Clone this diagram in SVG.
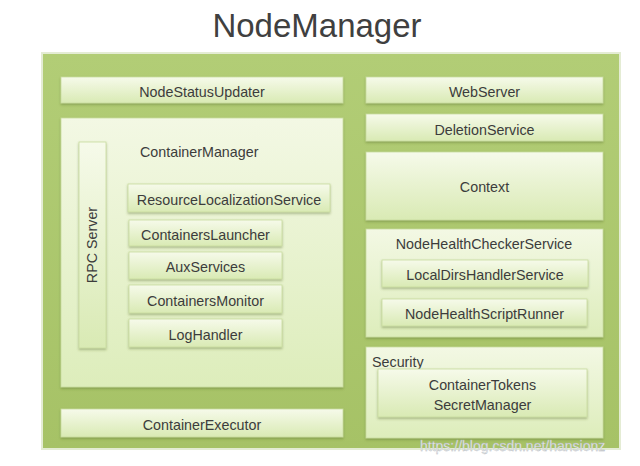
<svg xmlns="http://www.w3.org/2000/svg" width="640" height="466" viewBox="0 0 640 466">
<defs>
<linearGradient id="outerG" x1="0" y1="0" x2="0" y2="1">
<stop offset="0" stop-color="#b2cd76"/>
<stop offset="1" stop-color="#a6c266"/>
</linearGradient>
<linearGradient id="boxG" x1="0" y1="0" x2="0" y2="1">
<stop offset="0" stop-color="#f6faea"/>
<stop offset="1" stop-color="#d9eab4"/>
</linearGradient>
<linearGradient id="bigG" x1="0" y1="0" x2="0" y2="1">
<stop offset="0" stop-color="#f3f8e4"/>
<stop offset="1" stop-color="#ddedbb"/>
</linearGradient>
<filter id="sh" x="-10%" y="-10%" width="120%" height="130%">
<feDropShadow dx="0" dy="1.5" stdDeviation="1" flood-color="#5a6e2c" flood-opacity="0.45"/>
</filter>
</defs>
<style>
.box{fill:url(#boxG);stroke:#c9dc9f;stroke-width:0.8;filter:url(#sh)}
.big{fill:url(#bigG);stroke:#c9dc9f;stroke-width:0.8;filter:url(#sh)}
.t{font-family:"Liberation Sans",Arial,sans-serif;font-size:14.3px;fill:#3c3c3c;text-anchor:middle}
.tl{font-family:"Liberation Sans",Arial,sans-serif;font-size:14.3px;fill:#3c3c3c}
</style>
<rect width="640" height="466" fill="#ffffff"/>
<text x="317" y="37" font-family="Liberation Sans,Arial,sans-serif" font-size="33" fill="#404040" text-anchor="middle">NodeManager</text>
<g id="outer">
<rect x="42" y="53" width="578" height="396" fill="url(#outerG)" stroke="#e4ecd4" stroke-width="2"/>
</g>
<g id="connectors"></g>
<g id="NodeStatusUpdater"><rect class="box" x="61" y="77" width="282" height="26"/><text class="t" x="202" y="96.5">NodeStatusUpdater</text></g>
<g id="ContainerManager"><rect class="big" x="61" y="118" width="282" height="269"/><text class="tl" x="140" y="157">ContainerManager</text></g>
<g id="RPCServer"><rect class="box" x="79" y="142" width="27" height="206"/><text class="t" transform="translate(97,245) rotate(-90)">RPC Server</text></g>
<g id="ResourceLocalizationService"><rect class="box" x="128" y="184" width="202" height="28"/><text class="t" x="229" y="204.5">ResourceLocalizationService</text></g>
<g id="ContainersLauncher"><rect class="box" x="129" y="220" width="153" height="26"/><text class="t" x="205.5" y="239.5">ContainersLauncher</text></g>
<g id="AuxServices"><rect class="box" x="129" y="252" width="153" height="27"/><text class="t" x="205.5" y="271.5">AuxServices</text></g>
<g id="ContainersMonitor"><rect class="box" x="129" y="285" width="153" height="28"/><text class="t" x="205.5" y="305.5">ContainersMonitor</text></g>
<g id="LogHandler"><rect class="box" x="129" y="319" width="153" height="28"/><text class="t" x="205.5" y="339.5">LogHandler</text></g>
<g id="ContainerExecutor"><rect class="box" x="61" y="409" width="282" height="28"/><text class="t" x="202" y="429.5">ContainerExecutor</text></g>
<g id="WebServer"><rect class="box" x="366" y="77" width="237" height="26"/><text class="t" x="484.5" y="96.5">WebServer</text></g>
<g id="DeletionService"><rect class="box" x="366" y="114" width="237" height="27"/><text class="t" x="484.5" y="134.5">DeletionService</text></g>
<g id="Context"><rect class="box" x="366" y="152" width="237" height="68"/><text class="t" x="484.5" y="192">Context</text></g>
<g id="NodeHealthCheckerService"><rect class="big" x="366" y="229" width="237" height="108"/><text class="t" x="484" y="249">NodeHealthCheckerService</text></g>
<g id="LocalDirsHandlerService"><rect class="box" x="382" y="260" width="206" height="27"/><text class="t" x="485" y="280">LocalDirsHandlerService</text></g>
<g id="NodeHealthScriptRunner"><rect class="box" x="382" y="299" width="205" height="27"/><text class="t" x="484.5" y="319">NodeHealthScriptRunner</text></g>
<g id="Security"><rect class="big" x="366" y="347" width="237" height="91"/><text class="tl" x="372" y="367">Security</text></g>
<g id="ContainerTokensSecretManager"><rect class="box" x="378" y="369" width="209" height="48"/><text class="t" x="482.5" y="390">ContainerTokens</text><text class="t" x="482.5" y="410">SecretManager</text></g>
<text x="420" y="451" font-family="Liberation Sans,Arial,sans-serif" font-size="14" fill="#e8ecef" stroke="#b0b4b8" stroke-width="0.3">https://blog.csdn.net/hansionz</text>
</svg>
